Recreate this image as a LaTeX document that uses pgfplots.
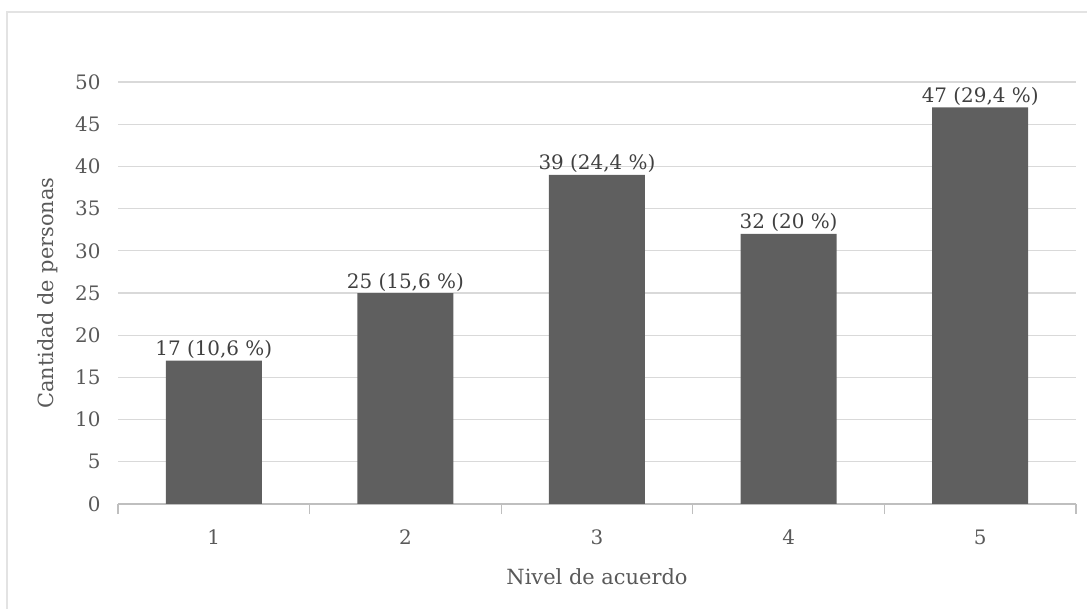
\documentclass[border=0pt]{standalone}
\usepackage{pgfplots}
\pgfplotsset{compat=1.18}
\usepackage{fontspec}
\setmainfont{DejaVu Serif}
\definecolor{barfill}{HTML}{5F5F5F}
\definecolor{gridc}{HTML}{D9D9D9}
\definecolor{axisc}{HTML}{BFBFBF}
\definecolor{tickc}{HTML}{595959}
\definecolor{labc}{HTML}{404040}
\definecolor{framec}{HTML}{E3E3E3}
\begin{document}
\begin{tikzpicture}
\useasboundingbox (0,0) rectangle (543.5bp,304.5bp);
% chart area outline (top and left edges)
\draw[framec, line width=0.9bp] (3.5bp,0) -- (3.5bp,298.5bp) -- (543.5bp,298.5bp);
\begin{axis}[
  at={(59bp,52.5bp)}, anchor=south west,
  scale only axis, width=479bp, height=211bp,
  xmin=0.5, xmax=5.5, ymin=0, ymax=50,
  ytick={0,5,...,50},
  xtick={1,2,3,4,5},
  minor xtick={0.5,1.5,...,5.5},
  major x tick style={draw=none},
  minor x tick style={draw=axisc, line width=0.6bp},
  minor tick length=5bp,
  tick align=outside,
  xtick pos=bottom,
  ytick pos=left,
  ytick style={draw=none},
  ymajorgrids, grid style={gridc, line width=0.6bp},
  axis x line*=bottom, axis y line*=left,
  x axis line style={axisc, line width=0.6bp, -},
  y axis line style={draw=none},
  tick label style={font=\fontsize{10}{12}\selectfont, text=tickc},
  /pgf/number format/assume math mode=true,
  yticklabel style={xshift=-1bp},
  xticklabel style={yshift=-5bp},
  label style={font=\fontsize{10.5}{12}\selectfont, text=tickc},
  xlabel={Nivel de acuerdo},
  ylabel={Cantidad de personas},
  xlabel style={at={(axis description cs:0.5,-0.173)}, anchor=center},
  ylabel style={at={(axis description cs:-0.073,0.5)}, anchor=center, rotate=0},
  ybar, bar width=48bp,
  point meta=explicit symbolic,
  nodes near coords,
  nodes near coords style={font=\fontsize{10}{12}\selectfont, text=labc, anchor=base, yshift=2.5bp, inner sep=0pt},
]
\addplot[fill=barfill, draw=none] coordinates {
  (1,17) [17 (10,6 \%)]
  (2,25) [25 (15,6 \%)]
  (3,39) [39 (24,4 \%)]
  (4,32) [32 (20 \%)]
  (5,47) [47 (29,4 \%)]
};
\end{axis}
\end{tikzpicture}
\end{document}
